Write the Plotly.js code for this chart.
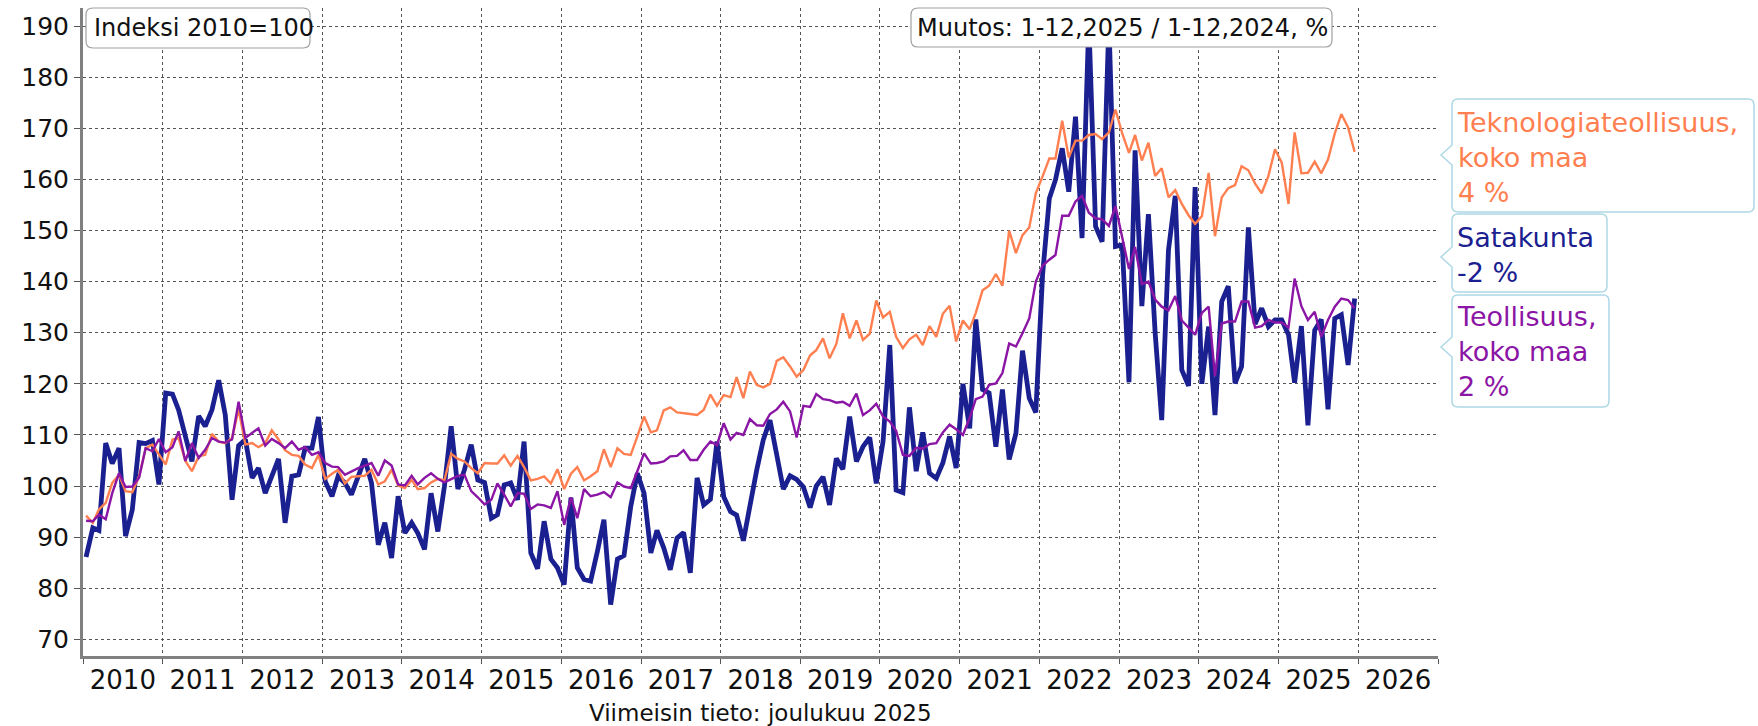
<!DOCTYPE html>
<html>
<head>
<meta charset="utf-8">
<script src="https://cdn.plot.ly/plotly-3.0.1.min.js"></script>
<style>
html,body{margin:0;padding:0;background:#fff;}
#chart{width:1758px;height:726px;}
</style>
</head>
<body>
<div id="chart"></div>
<script>
// ---- data (monthly index, 2010=100), Jan 2010 .. Dec 2025 ----
const startYear = 2010;
const seriesNames = ["Satakunta", "Teknologiateollisuus, koko maa", "Teollisuus, koko maa"];
const changeLabels = ["-2 %", "4 %", "2 %"];

const satakunta = [
 86.1,91.8,91.3,108.4,104.4,107.4,90.2,95.4,108.5,108.3,108.9,100.3,
 118.2,118.0,114.9,109.7,104.8,113.7,111.7,114.9,120.7,113.9,97.3,107.9,
 109.1,101.6,103.5,98.6,101.9,105.3,92.8,101.9,102.2,107.4,107.4,113.5,
 100.9,98.0,101.9,100.6,98.3,101.6,105.3,100.6,88.5,92.8,85.9,98.0,
 90.8,92.8,90.8,87.6,98.6,91.1,99.9,111.7,99.4,103.2,108.1,101.2,
 100.7,93.7,94.4,100.2,100.6,97.3,108.7,86.9,83.8,93.1,85.7,84.0,
 80.7,97.7,84.0,81.7,81.4,87.2,93.4,76.8,85.7,86.4,96.0,102.5,
 98.6,86.9,91.3,87.9,83.6,89.8,90.9,83.0,101.6,96.3,97.4,108.7,
 97.9,95.0,94.3,89.3,96.3,103.1,109.0,112.9,106.1,99.4,102.0,101.3,
 99.8,95.8,100.0,101.8,96.3,105.4,103.3,113.6,104.8,107.7,109.5,100.5,
 108.7,127.6,99.2,98.7,115.4,102.9,110.5,102.5,101.5,104.5,109.7,103.5,
 120.0,111.3,132.6,118.9,118.2,107.7,118.9,105.2,110.3,126.5,117.2,114.4,
 141.3,156.3,159.9,166.1,157.6,172.3,148.5,191.0,150.8,147.8,191.0,146.9,
 147.2,120.3,165.7,135.2,153.2,129.9,112.9,146.2,156.8,122.7,119.6,158.5,
 120.0,131.2,113.9,136.1,139.1,120.1,123.4,150.6,131.7,134.8,131.2,132.5,
 132.5,129.6,120.2,131.3,111.9,130.5,132.6,115.0,132.8,133.5,123.7,136.7
];

const teknologia = [
 94.2,92.8,95.4,96.7,100.6,102.2,99.0,98.8,101.9,107.4,108.1,106.1,
 104.2,109.1,109.4,104.9,102.9,105.8,106.1,110.2,108.7,108.4,109.4,115.0,
 108.1,108.4,107.6,108.4,110.9,109.1,107.0,106.1,105.9,104.2,103.5,106.1,
 101.4,102.4,103.2,100.5,101.8,101.9,102.0,103.2,100.3,100.9,103.2,100.1,
 99.6,101.2,99.4,99.6,100.7,101.4,101.1,106.3,105.3,104.8,103.5,102.5,
 104.5,104.4,104.4,106.0,104.0,105.9,103.7,101.1,101.4,101.9,100.5,103.3,
 99.4,102.4,103.7,101.1,101.9,102.9,107.2,103.7,107.4,106.3,106.1,109.7,
 113.6,110.5,110.9,114.8,115.4,114.4,114.3,114.1,113.9,114.9,117.9,115.7,
 117.8,117.4,121.3,117.2,122.4,119.8,119.3,120.0,124.5,125.2,123.4,121.4,
 122.7,125.6,126.6,128.9,125.0,127.8,133.8,128.9,132.4,128.6,129.8,136.3,
 133.0,134.1,129.2,127.0,128.7,129.6,127.6,131.3,129.2,133.7,135.3,128.3,
 132.4,130.7,133.9,138.3,139.2,141.5,139.2,150.0,145.6,149.1,150.6,157.3,
 160.6,164.1,164.1,171.5,164.3,167.6,167.6,168.7,168.9,167.9,169.2,173.7,
 169.0,165.2,168.7,163.7,167.2,160.7,162.2,156.5,157.9,155.2,153.0,151.3,
 152.8,161.3,148.9,156.5,158.3,158.9,162.6,161.8,159.2,157.3,160.7,165.9,
 163.3,155.2,169.2,161.2,161.3,163.5,161.2,163.9,169.0,172.8,170.2,165.4
];

const teollisuus = [
 93.2,93.1,94.4,93.5,98.6,102.5,99.8,99.9,101.6,107.4,106.8,109.2,
 106.6,107.6,110.7,104.9,108.4,105.5,107.1,109.4,108.7,108.5,109.1,116.5,
 109.4,110.4,111.3,107.9,109.2,108.4,107.4,108.7,107.1,107.6,106.1,106.6,
 104.5,103.8,103.7,102.2,102.9,103.5,104.0,104.5,102.0,105.0,104.0,100.3,
 100.1,102.0,100.3,101.6,102.5,101.4,100.7,101.4,102.0,102.2,99.0,97.8,
 96.4,97.3,100.5,98.3,96.0,98.6,98.5,95.5,96.4,96.2,95.7,99.0,
 92.4,97.8,93.7,99.4,98.0,98.3,98.8,97.8,100.7,99.9,99.6,102.9,
 106.4,104.4,104.5,104.8,105.8,105.9,107.0,105.1,105.1,107.1,108.7,108.0,
 112.3,109.1,110.4,110.0,113.1,111.9,111.8,114.1,115.0,116.5,114.6,109.5,
 115.7,115.5,118.0,117.0,116.8,116.3,116.5,115.7,118.1,113.9,114.8,116.1,
 113.6,112.6,110.8,106.1,105.9,107.5,107.3,108.2,108.4,110.5,112.0,111.1,
 110.0,113.3,117.0,117.5,119.8,120.1,122.1,127.9,127.3,129.9,132.8,140.0,
 143.1,144.3,145.2,152.9,152.9,155.7,156.8,153.5,152.4,152.2,150.9,154.8,
 148.8,142.5,146.8,139.5,140.0,136.5,135.1,134.4,137.2,132.4,131.0,129.6,
 133.9,135.1,121.5,131.8,132.2,132.2,136.1,136.1,131.0,131.3,132.5,132.0,
 132.0,131.0,140.6,135.2,132.5,134.1,129.2,132.5,135.1,136.7,136.4,134.8
];

const yTickVals = [70,80,90,100,110,120,130,140,150,160,170,180,190];

// month dates (mid-month)
const dates = [];
for (let i = 0; i < satakunta.length; i++) {
  const y = startYear + Math.floor(i / 12);
  const m = (i % 12) + 1;
  dates.push(y + "-" + String(m).padStart(2, "0") + "-15");
}

const colBlue = "#1b2090";
const colOrange = "#ff7f50";
const colPurple = "#8b15a4";
const FONT = "DejaVu Sans, Verdana, sans-serif";

const traces = [
  {x: dates, y: satakunta, name: seriesNames[0], type: "scatter", mode: "lines",
   line: {color: colBlue, width: 4.8}},
  {x: dates, y: teknologia, name: seriesNames[1], type: "scatter", mode: "lines",
   line: {color: colOrange, width: 2.4}},
  {x: dates, y: teollisuus, name: seriesNames[2], type: "scatter", mode: "lines",
   line: {color: colPurple, width: 2.4}}
];

// pixel -> paper helpers for decoration boxes
const L = 83, R = 1438, T = 8, B = 656;
const X = px => ((px - L) / (R - L)).toFixed(5);
const Y = py => ((B - py) / (B - T)).toFixed(5);

function boxPath(x0, y0, x1, y1, r, tip) {
  let p = `M ${X(x0 + r)},${Y(y0)} L ${X(x1 - r)},${Y(y0)} Q ${X(x1)},${Y(y0)} ${X(x1)},${Y(y0 + r)}`;
  p += ` L ${X(x1)},${Y(y1 - r)} Q ${X(x1)},${Y(y1)} ${X(x1 - r)},${Y(y1)}`;
  p += ` L ${X(x0 + r)},${Y(y1)} Q ${X(x0)},${Y(y1)} ${X(x0)},${Y(y1 - r)}`;
  if (tip) {
    p += ` L ${X(x0)},${Y(tip[1] + 10)} L ${X(tip[0])},${Y(tip[1])} L ${X(x0)},${Y(tip[1] - 10)}`;
  }
  p += ` L ${X(x0)},${Y(y0 + r)} Q ${X(x0)},${Y(y0)} ${X(x0 + r)},${Y(y0)} Z`;
  return p;
}

const shapes = [
  {type: "path", xref: "paper", yref: "paper", layer: "above",
   path: boxPath(86, 8, 310, 48, 7), fillcolor: "#ffffff", line: {color: "#a0a0a0", width: 1.2}},
  {type: "path", xref: "paper", yref: "paper", layer: "above",
   path: boxPath(911, 8, 1332, 47, 7), fillcolor: "#ffffff", line: {color: "#a0a0a0", width: 1.2}},
  {type: "path", xref: "paper", yref: "paper", layer: "above",
   path: boxPath(1452, 99, 1754, 212, 6, [1441, 155]), fillcolor: "#ffffff", line: {color: "#add8e6", width: 1.5}},
  {type: "path", xref: "paper", yref: "paper", layer: "above",
   path: boxPath(1452, 214, 1607, 292, 6, [1441, 257]), fillcolor: "#ffffff", line: {color: "#add8e6", width: 1.5}},
  {type: "path", xref: "paper", yref: "paper", layer: "above",
   path: boxPath(1452, 295, 1609, 407, 6, [1441, 347]), fillcolor: "#ffffff", line: {color: "#add8e6", width: 1.5}}
];

const annotations = [
  {xref: "paper", yref: "paper", x: +X(92), y: +Y(28), xanchor: "left", yanchor: "middle",
   text: "Indeksi 2010=100", showarrow: false, font: {family: FONT, size: 24, color: "#111"}},
  {xref: "paper", yref: "paper", x: +X(915), y: +Y(28), xanchor: "left", yanchor: "middle",
   text: "Muutos: 1-12,2025 / 1-12,2024, %", showarrow: false, font: {family: FONT, size: 24, color: "#111"}},
  {xref: "paper", yref: "paper", x: +X(1455), y: +Y(157), xanchor: "left", yanchor: "middle", align: "left",
   text: "Teknologiateollisuus,<br>koko maa<br>" + changeLabels[1], showarrow: false,
   font: {family: FONT, size: 27, color: colOrange}},
  {xref: "paper", yref: "paper", x: +X(1455), y: +Y(255), xanchor: "left", yanchor: "middle", align: "left",
   text: seriesNames[0] + "<br>" + changeLabels[0], showarrow: false,
   font: {family: FONT, size: 27, color: colBlue}},
  {xref: "paper", yref: "paper", x: +X(1455), y: +Y(352), xanchor: "left", yanchor: "middle", align: "left",
   text: "Teollisuus,<br>koko maa<br>" + changeLabels[2], showarrow: false,
   font: {family: FONT, size: 27, color: colPurple}},
  {xref: "paper", yref: "paper", x: 0.5, y: +Y(713), xanchor: "center", yanchor: "middle",
   text: "Viimeisin tieto: joulukuu 2025", showarrow: false, font: {family: FONT, size: 23, color: "#111"}}
];

const layout = {
  width: 1758, height: 726,
  margin: {l: L, r: 1758 - R, t: T, b: 726 - B, pad: 0},
  paper_bgcolor: "#ffffff", plot_bgcolor: "#ffffff",
  showlegend: false,
  font: {family: FONT, color: "#111"},
  xaxis: {
    type: "date", range: ["2010-01-01", "2027-01-01"],
    tick0: "2010-01-01", dtick: "M12", tickformat: "%Y", ticklabelmode: "period",
    showgrid: true, gridcolor: "#555", griddash: "dot", gridwidth: 1,
    showline: true, linecolor: "#808080", linewidth: 3,
    ticks: "outside", ticklen: 5, tickcolor: "#555", tickwidth: 1,
    ticklabelstandoff: -6,
    tickfont: {family: FONT, size: 26, color: "#111"},
    zeroline: false, fixedrange: true
  },
  yaxis: {
    range: [66.73, 193.56], tickvals: yTickVals,
    showgrid: true, gridcolor: "#555", griddash: "dot", gridwidth: 1,
    showline: true, linecolor: "#808080", linewidth: 3,
    ticks: "outside", ticklen: 6, tickcolor: "#555", tickwidth: 1,
    tickfont: {family: FONT, size: 25, color: "#111"},
    zeroline: false, fixedrange: true
  },
  shapes: shapes,
  annotations: annotations
};

Plotly.newPlot("chart", traces, layout, {displayModeBar: false, staticPlot: true});
</script>
</body>
</html>
